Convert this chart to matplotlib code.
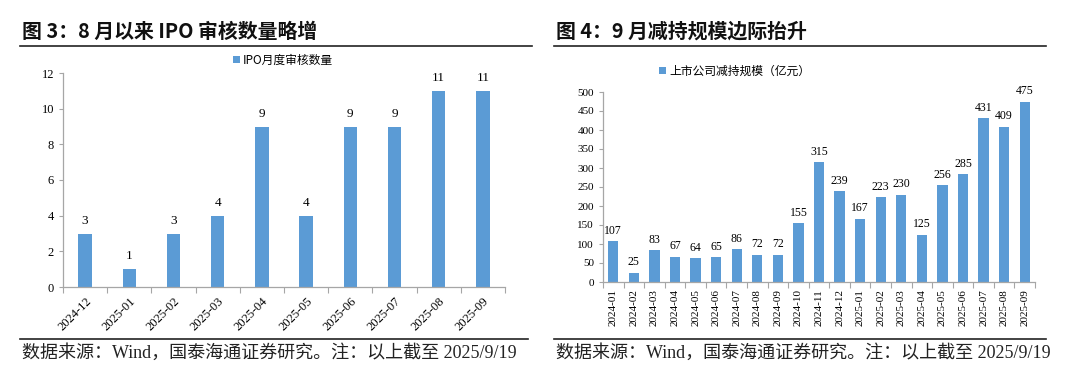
import numpy as np
import matplotlib
matplotlib.use("Agg")
import matplotlib.pyplot as plt

# data
ipo_months = ['2024-12', '2025-01', '2025-02', '2025-03', '2025-04',
              '2025-05', '2025-06', '2025-07', '2025-08', '2025-09']
ipo_counts = [3, 1, 3, 4, 9, 4, 9, 9, 11, 11]

red_months = ['2024-01', '2024-02', '2024-03', '2024-04', '2024-05', '2024-06',
              '2024-07', '2024-08', '2024-09', '2024-10', '2024-11', '2024-12',
              '2025-01', '2025-02', '2025-03', '2025-04', '2025-05', '2025-06',
              '2025-07', '2025-08', '2025-09']
red_values = [107, 25, 83, 67, 64, 65, 86, 72, 72, 155, 315, 239,
              167, 223, 230, 125, 256, 285, 431, 409, 475]

BAR = '#5B9BD5'
SERIF = ['Liberation Serif', 'Noto Sans CJK SC']
CJK = ['Noto Sans CJK SC', 'DejaVu Sans']
SOURCE = '数据来源：Wind，国泰海通证券研究。注：以上截至 2025/9/19'

W, H = 1080, 377
fig = plt.figure(figsize=(W / 100, H / 100), dpi=100)


def px_axes(x0, y0, x1, y1):
    # pixel box (top-left origin) -> figure fraction
    return fig.add_axes([x0 / W, 1 - y1 / H, (x1 - x0) / W, (y1 - y0) / H])


def hline(x0, x1, y, lw=1.2):
    fig.add_artist(plt.Line2D([x0 / W, x1 / W], [1 - y / H, 1 - y / H],
                              color='#222222', lw=lw))


def style_axes(ax, n):
    for s in ['top', 'right']:
        ax.spines[s].set_visible(False)
    for s in ['left', 'bottom']:
        ax.spines[s].set_color('#a6a6a6')
        ax.spines[s].set_linewidth(0.9)
    ax.set_xlim(-0.5, n - 0.5)
    # category ticks on boundaries, like Excel
    ax.set_xticks(np.arange(-0.5, n, 1.0), minor=False)
    ax.set_xticklabels([])
    ax.set_xticks(np.arange(n), minor=True)
    ax.tick_params(axis='x', which='major', length=4, color='#a6a6a6', direction='out')
    ax.tick_params(axis='x', which='minor', length=0)
    ax.tick_params(axis='y', length=3, color='#a6a6a6', direction='out')


# ---- left panel ----
fig.text(22 / W, 1 - 31 / H, '图 3：8 月以来 IPO 审核数量略增', family=CJK,
         fontsize=14.3, fontweight='bold', va='center', ha='left', color='#111111')
hline(20, 532, 46)

ax1 = px_axes(63, 73, 505, 287)
x1 = np.arange(len(ipo_counts))
ax1.bar(x1, ipo_counts, width=0.3, color=BAR, label='IPO月度审核数量')
style_axes(ax1, len(ipo_counts))
ax1.set_ylim(0, 12)
ax1.set_yticks(range(0, 13, 2))
for lab in ax1.get_yticklabels():
    lab.set_family(SERIF)
    lab.set_fontsize(9)
ax1.set_xticklabels(ipo_months, minor=True, rotation=45, ha='right',
                    rotation_mode='anchor', family=SERIF, fontsize=9)
ax1.tick_params(axis='x', which='minor', pad=6)
for xi, v in zip(x1, ipo_counts):
    ax1.annotate(str(v), (xi, v), xytext=(0, 5), textcoords='offset points',
                 ha='center', va='bottom', family=SERIF, fontsize=9.5)
ax1.legend(loc='upper center', bbox_to_anchor=((283 - 63) / (505 - 63), 1 + 24 / 214),
           frameon=False, prop={'family': CJK, 'size': 8.5}, handlelength=0.6,
           handleheight=0.6, handletextpad=0.3, borderaxespad=0)

hline(20, 528, 339)
fig.text(22 / W, 1 - 353 / H, SOURCE,
         family=SERIF, fontsize=13, va='center', ha='left', color='#222222')

# ---- right panel ----
fig.text(556 / W, 1 - 31 / H, '图 4：9 月减持规模边际抬升', family=CJK,
         fontsize=14.3, fontweight='bold', va='center', ha='left', color='#111111')
hline(554, 1046, 46)

ax2 = px_axes(603, 92, 1035, 282)
x2 = np.arange(len(red_values))
ax2.bar(x2, red_values, width=0.5, color=BAR, label='上市公司减持规模（亿元）')
style_axes(ax2, len(red_values))
ax2.set_ylim(0, 500)
ax2.set_yticks(range(0, 501, 50))
for lab in ax2.get_yticklabels():
    lab.set_family(SERIF)
    lab.set_fontsize(8)
ax2.set_xticklabels(red_months, minor=True, rotation=90, ha='center', va='top',
                    family=SERIF, fontsize=8)
ax2.tick_params(axis='x', which='minor', pad=5)
for xi, v in zip(x2, red_values):
    ax2.annotate(str(v), (xi, v), xytext=(0, 3), textcoords='offset points',
                 ha='center', va='bottom', family=SERIF, fontsize=8.5)
ax2.legend(loc='upper center', bbox_to_anchor=((735 - 603) / (1035 - 603), 1 + 32 / 190),
           frameon=False, prop={'family': CJK, 'size': 8.5}, handlelength=0.6,
           handleheight=0.6, handletextpad=0.3, borderaxespad=0)

hline(554, 1046, 339)
fig.text(556 / W, 1 - 353 / H, SOURCE,
         family=SERIF, fontsize=13, va='center', ha='left', color='#222222')

fig.savefig('out.png', dpi=100)
